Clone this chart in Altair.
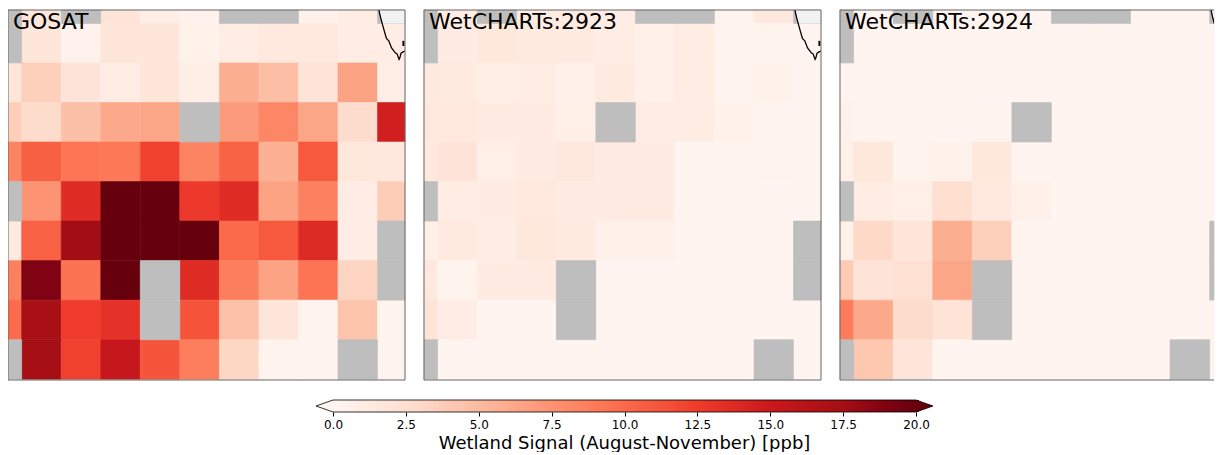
import altair as alt
import numpy as np
import pandas as pd

G = None  # grey (no data) cell
PANEL_NAMES = ["GOSAT", "WetCHARTs:2923", "WetCHARTs:2924"]

GOSAT = [
    [G, 1.8, G, 2.0, 0.8, 0.3, G, G, 0.4, 1.0, G],
    [G, 1.8, 0.3, 1.9, 1.8, 0.4, 1.0, 1.5, 1.5, 0.9, 0.9],
    [1.9, 3.6, 2.0, 0.9, 1.9, 0.8, 5.8, 4.8, 2.2, 6.5, 0.8],
    [3.7, 2.8, 4.7, 6.2, 6.3, G, 7.0, 8.3, 6.3, 2.7, 14.6],
    [8.4, 10.6, 9.3, 9.2, 12.2, 8.4, 10.4, 5.6, 11.0, 1.7, 1.6],
    [G, 7.4, 13.6, 20, 20, 12.7, 13.6, 6.5, 8.6, 0.9, 3.8],
    [1.3, 10.5, 17.6, 20, 20, 20, 10.0, 11.0, 13.8, 0.9, G],
    [8.7, 19.0, 9.5, 20, G, 13.6, 8.8, 6.5, 9.4, 3.3, G],
    [10.0, 17.3, 12.5, 13.2, G, 11.3, 4.6, 1.9, 0.2, 4.4, 0.2],
    [G, 17.5, 12.3, 15.3, 11.2, 8.8, 3.2, 0.2, 0.2, G, 0.2],
]
W2923 = [
    [G, 1.0, G, 1.0, 1.2, 0.9, G, G, 0.2, 1.5, G],
    [G, 1.2, 1.7, 1.3, 1.3, 1.0, 0.5, 1.1, 0.2, 0.2, 0.1],
    [1.5, 1.3, 0.8, 1.1, 0.6, 1.3, 0.6, 1.0, 0.2, 0.4, 0.1],
    [1.6, 1.4, 1.2, 1.2, 0.7, G, 0.9, 1.0, 0.4, 0.1, 0.1],
    [1.4, 2.0, 0.7, 1.2, 1.6, 1.2, 1.2, 0.1, 0.1, 0.2, 0.1],
    [G, 1.1, 1.2, 1.5, 1.2, 1.2, 1.2, 0.1, 0.1, 0.1, 0.1],
    [0.7, 1.3, 0.9, 1.7, 1.3, 0.6, 0.6, 0.1, 0.1, 0.1, G],
    [1.5, 0.2, 1.2, 1.2, G, 0.1, 0.1, 0.1, 0.1, 0.1, G],
    [2.1, 0.9, 0.1, 0.1, G, 0.1, 0.1, 0.1, 0.1, 0.1, 0.1],
    [G, 0.1, 0.1, 0.1, 0.1, 0.1, 0.1, 0.1, 0.1, G, 0.1],
]
W2924 = [
    [G, 0.1, G, 0.1, 0.1, 0.1, G, G, 0.1, 0.1, G],
    [G, 0.1, 0.1, 0.1, 0.1, 0.1, 0.1, 0.1, 0.1, 0.1, 0.1],
    [0.1, 0.1, 0.1, 0.1, 0.1, 0.1, 0.1, 0.1, 0.1, 0.1, 0.1],
    [0.3, 0.1, 0.1, 0.1, 0.2, G, 0.1, 0.1, 0.1, 0.1, 0.1],
    [0.5, 1.7, 0.2, 0.4, 1.7, 0.1, 0.1, 0.1, 0.1, 0.1, 0.1],
    [G, 1.0, 0.7, 2.6, 1.4, 0.6, 0.1, 0.1, 0.1, 0.1, 0.1],
    [0.5, 3.0, 1.9, 5.8, 3.6, 0.1, 0.1, 0.1, 0.1, 0.1, G],
    [4.0, 2.0, 2.4, 6.3, G, 0.1, 0.1, 0.1, 0.1, 0.1, G],
    [9.0, 6.2, 2.8, 2.2, G, 0.1, 0.1, 0.1, 0.1, 0.1, 0.1],
    [G, 4.2, 1.9, 0.1, 0.1, 0.1, 0.1, 0.1, 0.1, G, 0.1],
]
PANELS = [GOSAT, W2923, W2924]
PANEL_WIDTHS = [397, 397, 374]
PANEL_UMAX = [10.04, 10.04, 9.456]

COAST_U = [9.38, 9.42, 9.48, 9.53, 9.57, 9.63, 9.70, 9.80, 9.84, 9.89, 9.91, 9.94, 9.99, 10.04]
COAST_V = [0.0, 0.18, 0.40, 0.58, 0.72, 0.78, 0.96, 1.09, 1.11, 1.25, 1.21, 1.09, 1.06, 1.04]
ISLAND_U = [10.0, 10.0]
ISLAND_V = [0.78, 0.91]
LAND_U = [9.38, 9.46, 10.04]
LAND_V = [0.0, 0.34, 0.34]

TICKS = [0, 2.5, 5, 7.5, 10, 12.5, 15, 17.5, 20]
REDS_STOPS = ["#fff5f0", "#fee0d2", "#fcbba1", "#fc9272", "#fb6a4a", "#ef3b2c", "#cb181d", "#a50f15", "#67000d"]

X_OFF, Y_OFF = 0.345, 0.34
V_MAX = 9.36
FONT = "DejaVu Sans"

ys = alt.Scale(domain=[0, V_MAX], nice=False, zero=False, reverse=True)
cs = alt.Scale(domain=TICKS, range=REDS_STOPS, clamp=True)


def cells(grid, u_max):
    rows = []
    for r, row in enumerate(grid):
        for c, v in enumerate(row):
            rows.append({
                "x0": max(0, X_OFF + c - 1), "x1": min(u_max, X_OFF + c),
                "y0": max(0, Y_OFF + r - 1), "y1": min(V_MAX, Y_OFF + r),
                "v": v, "gap": v is None,
            })
    return pd.DataFrame(rows)


def panel(name, grid, width, u_max, closed):
    xs = alt.Scale(domain=[0, u_max], nice=False, zero=False)
    d = cells(grid, u_max)
    X = lambda f: alt.X(f, scale=xs, axis=None)
    Y = lambda f: alt.Y(f, scale=ys, axis=None)
    enc = dict(x=X("x0:Q"), x2="x1:Q", y=Y("y0:Q"), y2="y1:Q")
    vals = alt.Chart(d[~d.gap]).mark_rect(strokeWidth=0.6).encode(
        color=alt.Color("v:Q", scale=cs, legend=None),
        stroke=alt.Stroke("v:Q", scale=cs, legend=None), **enc)
    gaps = alt.Chart(d[d.gap]).mark_rect(color="#bebebe", stroke="#bebebe", strokeWidth=0.6).encode(**enc)
    fu = [u_max, 0, 0, u_max] + ([u_max] if closed else [])
    fv = [0, 0, V_MAX, V_MAX] + ([0] if closed else [])
    frame = alt.Chart(pd.DataFrame({"u": fu, "v": fv, "i": range(len(fu))})).mark_line(
        color="#666666", strokeWidth=1).encode(x=X("u:Q"), y=Y("v:Q"), order="i:Q")
    label = alt.Chart(pd.DataFrame({"t": [name]})).mark_text(
        align="left", baseline="alphabetic", font=FONT, fontSize=22, color="black").encode(
        x=alt.value(5), y=alt.value(19), text="t:N")
    land = alt.Chart(pd.DataFrame({"u": LAND_U, "v": LAND_V, "t": [0.0] * 3})).mark_area(
        color="white", opacity=0.8, clip=True).encode(x=X("u:Q"), y=Y("v:Q"), y2="t:Q")
    coast = pd.DataFrame({"u": COAST_U, "v": COAST_V, "i": range(len(COAST_U))})
    line = alt.Chart(coast).mark_line(color="black", strokeWidth=1.3, clip=True).encode(
        x=X("u:Q"), y=Y("v:Q"), order="i:Q")
    island = alt.Chart(pd.DataFrame({"u": ISLAND_U, "v": ISLAND_V})).mark_line(
        color="black", strokeWidth=2, clip=True).encode(x=X("u:Q"), y=Y("v:Q"))
    return alt.layer(vals, gaps, land, line, island, frame, label).properties(width=width, height=370)


top = alt.hconcat(
    *[panel(n, g, w, u, i < 2) for i, (n, g, w, u) in enumerate(zip(PANEL_NAMES, PANELS, PANEL_WIDTHS, PANEL_UMAX))],
    spacing=19, bounds="flush",
).resolve_scale(color="shared", stroke="shared")

TOTAL_W = 1206
PX_PER = 583 / 20
ZERO_PX = 325
cb_xs = alt.Scale(domain=[-ZERO_PX / PX_PER, (TOTAL_W - ZERO_PX) / PX_PER], nice=False, zero=False)
cb_ys = alt.Scale(domain=[0, 1], nice=False, zero=False)
cb_axis = alt.Axis(
    values=TICKS, format=".1f", domain=False, grid=False, tickColor="black", tickSize=4, tickWidth=1,
    labelFontSize=12, labelFont=FONT, labelColor="black", labelPadding=3, labelFlush=False,
    title="Wetland Signal (August-November) [ppb]", titleFontSize=18, titleFont=FONT,
    titleFontWeight="normal", titleColor="black", titleX=616, titleY=36, titleAlign="center",
    titleBaseline="alphabetic",
)
CX = lambda f: alt.X(f, scale=cb_xs, axis=cb_axis)
CY = lambda f: alt.Y(f, scale=cb_ys, axis=None)
edges = np.linspace(0, 20, 257)
grad = pd.DataFrame({"a": edges[:-1], "b": edges[1:] + 0.1, "v": (edges[:-1] + edges[1:]) / 2, "lo": 0.0, "hi": 1.0})
TIP = 17 / PX_PER
bar = alt.Chart(grad).mark_rect(strokeWidth=0).encode(
    x=CX("a:Q"), x2="b:Q", y=CY("lo:Q"), y2="hi:Q",
    color=alt.Color("v:Q", scale=cs, legend=None),
)
left_tri = alt.Chart(pd.DataFrame({"x": [-TIP, 0.0], "a": [0.5, 0.0], "b": [0.5, 1.0]})).mark_area(color=REDS_STOPS[0]).encode(
    x=CX("x:Q"), y=CY("a:Q"), y2="b:Q")
right_tri = alt.Chart(pd.DataFrame({"x": [20.0, 20 + TIP], "a": [0.0, 0.5], "b": [1.0, 0.5]})).mark_area(color=REDS_STOPS[-1]).encode(
    x=CX("x:Q"), y=CY("a:Q"), y2="b:Q")
outline = alt.Chart(pd.DataFrame({
    "x": [-TIP, 0.0, 20.0, 20 + TIP, 20.0, 0.0, -TIP],
    "y": [0.5, 1.0, 1.0, 0.5, 0.0, 0.0, 0.5],
    "i": list(range(7)),
})).mark_line(color="black", strokeWidth=0.8).encode(x=CX("x:Q"), y=CY("y:Q"), order="i:Q")
colorbar = alt.layer(bar, left_tri, right_tri, outline).properties(width=TOTAL_W, height=12)

chart = alt.vconcat(top, colorbar, spacing=16).resolve_scale(color="independent").properties(
    padding={"left": -2, "top": 0, "right": 0, "bottom": 0},
).configure_view(stroke=None)

chart.save("out.html", embed_options={"renderer": "svg", "actions": False})
